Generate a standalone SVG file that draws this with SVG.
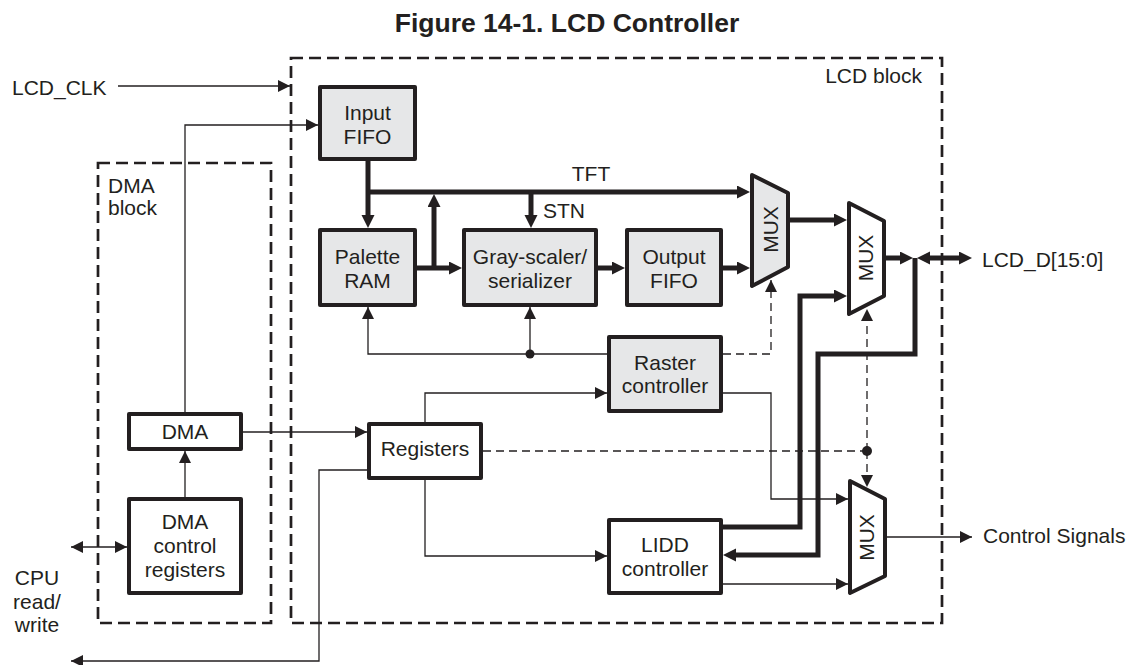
<svg xmlns="http://www.w3.org/2000/svg" width="1129" height="665" viewBox="0 0 1129 665">
<style>
text{font-family:"Liberation Sans",Arial,Helvetica,sans-serif;font-size:21px;fill:#231f20}
.title{font-size:26.5px;font-weight:bold;text-anchor:middle}
.c{text-anchor:middle}
.e{text-anchor:end}
.box{stroke:#231f20;stroke-width:4;stroke-linejoin:round}
.g{fill:#e6e7e8}
.w{fill:#fff}
.blk{fill:none;stroke:#231f20;stroke-width:2.7;stroke-dasharray:12 6}
.thin{fill:none;stroke:#231f20;stroke-width:1.3}
.dash{fill:none;stroke:#231f20;stroke-width:1.3;stroke-dasharray:8 5}
.thick{fill:none;stroke:#231f20;stroke-width:5}
</style>
<defs>
<marker id="a" markerUnits="userSpaceOnUse" markerWidth="12" markerHeight="12" refX="12" refY="6" orient="auto"><path d="M0,0L12,6L0,12z" fill="#231f20"/></marker>
<marker id="as" markerUnits="userSpaceOnUse" markerWidth="12" markerHeight="12" refX="12" refY="6" orient="auto-start-reverse"><path d="M0,0L12,6L0,12z" fill="#231f20"/></marker>
<marker id="t" markerUnits="userSpaceOnUse" markerWidth="14" markerHeight="14" refX="6" refY="6.5" orient="auto"><path d="M0,0L13,6.5L0,13z" fill="#231f20"/></marker>
<marker id="ts" markerUnits="userSpaceOnUse" markerWidth="14" markerHeight="14" refX="6" refY="6.5" orient="auto-start-reverse"><path d="M0,0L13,6.5L0,13z" fill="#231f20"/></marker>
</defs>
<rect width="1129" height="665" fill="#fff"/>
<text class="title" x="567" y="32">Figure 14-1. LCD Controller</text>

<g id="lcd-block">
<rect class="blk" x="291" y="58" width="651" height="565"/>
<text class="e" x="922" y="83">LCD block</text>
</g>
<g id="dma-block">
<rect class="blk" x="98" y="163" width="173" height="460"/>
<text x="108" y="193">DMA</text>
<text x="108" y="215">block</text>
</g>

<g id="connectors">
<path class="thin" d="M118,86H290" marker-end="url(#a)"/>
<path class="thin" d="M185,412V125H318" marker-end="url(#a)"/>
<path class="thin" d="M185,497V451" marker-end="url(#a)"/>
<path class="thin" d="M71,547H127" marker-start="url(#as)" marker-end="url(#a)"/>
<path class="thin" d="M243,432H367" marker-end="url(#a)"/>
<path class="thin" d="M367,470H319V661H71" marker-end="url(#a)"/>
<path class="thin" d="M425,422V393H607" marker-end="url(#a)"/>
<path class="thin" d="M425,480V556H607" marker-end="url(#a)"/>
<path class="thin" d="M607,354H368V307" marker-end="url(#a)"/>
<path class="thin" d="M530,354V307" marker-end="url(#a)"/>
<circle cx="530" cy="354" r="4.5" fill="#231f20"/>
<path class="thin" d="M723,393H771V499H848" marker-end="url(#a)"/>
<path class="thin" d="M723,584H848" marker-end="url(#a)"/>
<path class="thin" d="M887,537H972" marker-end="url(#a)"/>
<path class="dash" d="M723,354H771V280" marker-end="url(#a)"/>
<path class="dash" d="M483,451H867"/>
<path class="dash" d="M867,451V309" marker-end="url(#a)"/>
<path class="dash" d="M867,451V487" marker-end="url(#a)"/>
<circle cx="867" cy="451" r="5" fill="#231f20"/>
<path class="thick" d="M368,161V221" marker-end="url(#t)"/>
<path class="thick" d="M368,192H743" marker-end="url(#t)"/>
<path class="thick" d="M434,268V201" marker-end="url(#t)"/>
<path class="thick" d="M531,192V221" marker-end="url(#t)"/>
<path class="thick" d="M417,268H455" marker-end="url(#t)"/>
<path class="thick" d="M598,268H618" marker-end="url(#t)"/>
<path class="thick" d="M723,268H743" marker-end="url(#t)"/>
<path class="thick" d="M790,220H840" marker-end="url(#t)"/>
<path class="thick" d="M723,527H800V296H840" marker-end="url(#t)"/>
<path class="thick" d="M886,258H906" marker-end="url(#t)"/>
<path class="thick" d="M924,258H965" marker-start="url(#ts)" marker-end="url(#t)"/>
<path class="thick" d="M915,258V354H818V555H730" marker-end="url(#t)"/>
<text class="c" x="591" y="181">TFT</text>
<text x="543" y="218">STN</text>
<text x="12" y="95">LCD_CLK</text>
<text x="982" y="267">LCD_D[15:0]</text>
<text x="983" y="543">Control Signals</text>
<text class="c" x="37" y="585">CPU</text>
<text class="c" x="37" y="608.5">read/</text>
<text class="c" x="37" y="632">write</text>
</g>

<g id="input-fifo">
<rect class="box g" x="320" y="87" width="95" height="72"/>
<text class="c" x="367.5" y="120">Input</text>
<text class="c" x="367.5" y="144">FIFO</text>
</g>
<g id="palette-ram">
<rect class="box g" x="320" y="230" width="95" height="75"/>
<text class="c" x="367.5" y="264">Palette</text>
<text class="c" x="367.5" y="287.5">RAM</text>
</g>
<g id="gray-scaler">
<rect class="box g" x="464" y="230" width="132" height="75"/>
<text class="c" x="530" y="264">Gray-scaler/</text>
<text class="c" x="530" y="287.5">serializer</text>
</g>
<g id="output-fifo">
<rect class="box g" x="627" y="230" width="94" height="75"/>
<text class="c" x="674" y="264">Output</text>
<text class="c" x="674" y="287.5">FIFO</text>
</g>
<g id="raster-controller">
<rect class="box g" x="609" y="337" width="112" height="74"/>
<text class="c" x="665" y="370">Raster</text>
<text class="c" x="665" y="393">controller</text>
</g>
<g id="registers">
<rect class="box w" x="369" y="424" width="112" height="54"/>
<text class="c" x="425" y="456">Registers</text>
</g>
<g id="lidd-controller">
<rect class="box w" x="609" y="520" width="112" height="73"/>
<text class="c" x="665" y="552">LIDD</text>
<text class="c" x="665" y="576">controller</text>
</g>
<g id="dma">
<rect class="box w" x="129" y="414" width="112" height="35"/>
<text class="c" x="185" y="439">DMA</text>
</g>
<g id="dma-control-registers">
<rect class="box w" x="129" y="499" width="112" height="94"/>
<text class="c" x="185" y="529">DMA</text>
<text class="c" x="185" y="553">control</text>
<text class="c" x="185" y="577">registers</text>
</g>
<g id="mux1">
<polygon class="box g" points="752,175 788,193 788,267 752,286"/>
<text class="c" transform="translate(770.5,229.5) rotate(-90)" y="7.5">MUX</text>
</g>
<g id="mux2">
<polygon class="box w" points="849,203 884,221 884,296 849,314"/>
<text class="c" transform="translate(865.5,258) rotate(-90)" y="7.5">MUX</text>
</g>
<g id="mux3">
<polygon class="box w" points="850,481 885,499 885,576 850,593"/>
<text class="c" transform="translate(866,537.5) rotate(-90)" y="7.5">MUX</text>
</g>
</svg>
